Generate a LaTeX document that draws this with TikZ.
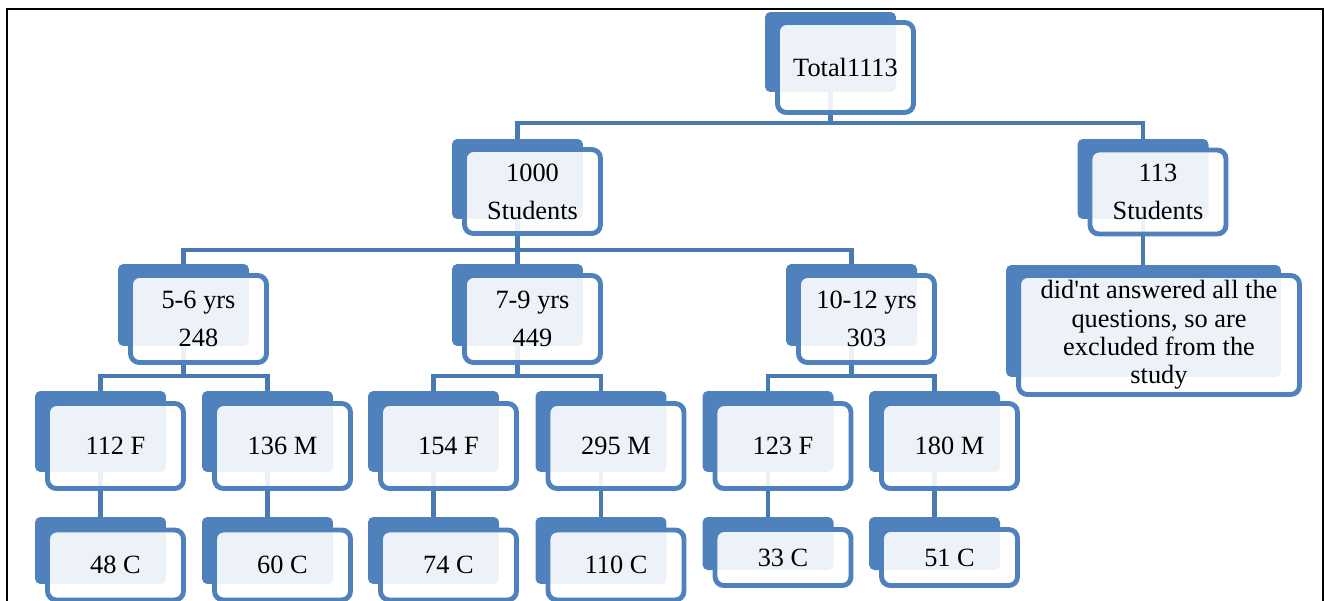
\documentclass[tikz,border=0pt]{standalone}
\usepackage{fontspec}
\setmainfont{Liberation Serif}
\usetikzlibrary{backgrounds}
\definecolor{boxblue}{HTML}{4F81BD}
\definecolor{linkblue}{HTML}{4A7AB4}
\tikzset{
  backbox/.style={fill=boxblue, rounded corners=3pt, minimum width=2.62cm, inner sep=0pt},
  frontbox/.style={draw=boxblue, line width=2.8pt, fill=white, fill opacity=0.9, text opacity=1,
    rounded corners=5pt, minimum width=2.72cm, inner sep=0pt, align=center,
    font=\fontsize{15}{21.6}\selectfont},
  link/.style={draw=linkblue, line width=2.8pt}
}
\begin{document}
\begin{tikzpicture}[x=0.02cm, y=-0.02cm]
        \useasboundingbox (0,0) rectangle (1324,601);
        \draw[line width=0.04cm] (7,9) rectangle (1322.5,700);

        % Level 1
        \node[backbox, minimum height=1.6cm] (tot-b) at (830.5,52) {};
        \node[frontbox, minimum height=1.8cm] (tot) at (845.5,67.5) {Total1113};

        % Level 2
        \node[backbox, minimum height=1.6cm] (s1000-b) at (517.5,179) {};
        \node[frontbox, minimum height=1.68cm] (s1000) at (532.5,191.5) {1000\\Students};
        \node[backbox, minimum height=1.6cm] (s113-b) at (1143,179) {};
        \node[frontbox, minimum height=1.68cm] (s113) at (1158,192) {113\\Students};

        % Level 3 (age groups)
        \foreach \n/\x/\t in {y56/183.5/{5-6 yrs\\248}, y79/517.5/{7-9 yrs\\449}, y1012/851.5/{10-12 yrs\\303}} {
            \node[backbox, minimum height=1.64cm] (\n-b) at (\x,305) {};
            \node[frontbox, minimum height=1.74cm] (\n) at (\x+15,319) {\t};
        }
        \node[backbox, minimum width=5.5cm, minimum height=2.24cm] (excl-b) at (1143.5,321) {};
        \node[frontbox, minimum width=5.62cm, minimum height=2.38cm, font=\fontsize{15}{16.1}\selectfont]
            (excl) at (1159,335) {did\textquotesingle nt answered all the\\questions, so are\\excluded from the\\study};

        % Level 4 (F / M)
        \foreach \n/\x/\t in {f112/100.5/112 F, m136/267.5/136 M, f154/433.5/154 F,
                              m295/601/295 M, f123/768/123 F, m180/934.5/180 M} {
            \node[backbox, minimum height=1.62cm] (\n-b) at (\x,431.5) {};
            \node[frontbox, minimum height=1.7cm] (\n) at (\x+15,446) {\t};
        }

        % Level 5 (C)
        \foreach \n/\x/\t in {c48/100.5/48 C, c60/267.5/60 C, c74/433.5/74 C, c110/601/110 C} {
            \node[backbox, minimum height=1.34cm] (\n-b) at (\x,550.5) {};
            \node[frontbox, minimum height=1.4cm] (\n) at (\x+15,565) {\t};
        }
        \foreach \n/\x/\t in {c33/768/33 C, c51/934.5/51 C} {
            \node[backbox, minimum height=1.06cm] (\n-b) at (\x,543.5) {};
            \node[frontbox, minimum height=1.12cm] (\n) at (\x+15,557.5) {\t};
        }

        % connectors
        \coordinate (bus1) at (0,123);
        \coordinate (bus2) at (0,250);
        \coordinate (bus3) at (0,376);
        \begin{scope}[on background layer]
            \foreach \c in {s1000,s113}
                \draw[link] (tot-b.south) -- (tot-b.south |- bus1) -| (\c-b.north);
            \foreach \c in {y56,y79,y1012}
                \draw[link] (s1000-b.south) -- (s1000-b.south |- bus2) -| (\c-b.north);
            \draw[link] (s113-b.south) -- (s113-b.south |- excl-b.north);
            \foreach \p/\c in {y56/f112, y56/m136, y79/f154, y79/m295, y1012/f123, y1012/m180}
                \draw[link] (\p-b.south) -- (\p-b.south |- bus3) -| (\c-b.north);
            \foreach \p/\c in {f112/c48, m136/c60, f154/c74, m295/c110, f123/c33, m180/c51}
                \draw[link] (\p-b.south) -- (\c-b.north);
        \end{scope}
\end{tikzpicture}
\end{document}
